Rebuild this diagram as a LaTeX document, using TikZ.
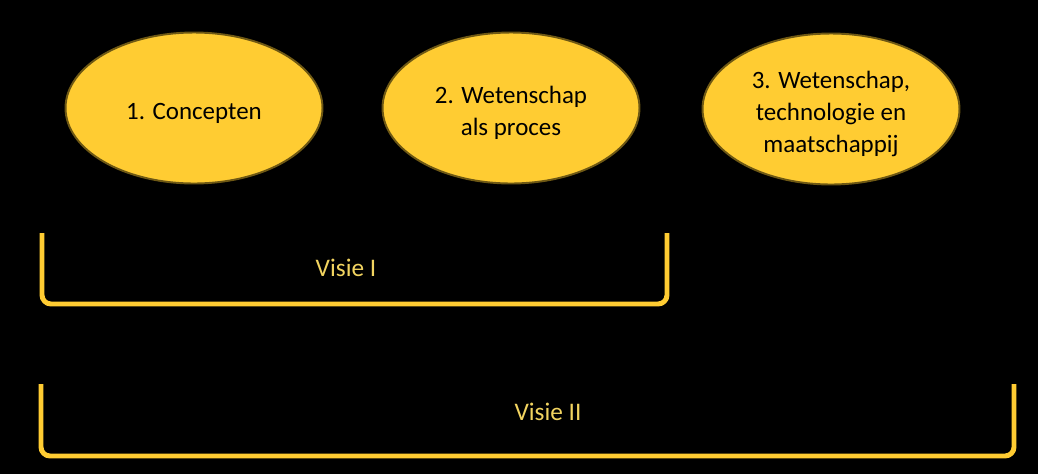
\documentclass[tikz,border=0pt]{standalone}
\usepackage{fontspec}
\setmainfont{Carlito}
\usepackage{xcolor}
\usepackage{tikz}
\usetikzlibrary{shapes,positioning}
\definecolor{geel}{RGB}{255,204,50}
\definecolor{rand}{RGB}{110,88,20}
\definecolor{tekstgeel}{RGB}{242,212,96}
\tikzstyle{pijler}=[ellipse,draw=rand,line width=1.1pt,fill=geel,
  minimum width=5.14cm,minimum height=3.02cm,inner sep=0pt]
\tikzstyle{pijltekst}=[text=black,align=center,inner sep=0pt,yshift=-0.1cm,
  font=\fontsize{14.2}{18.4}\selectfont]
\tikzstyle{haak}=[draw=geel,line width=2.8pt,rounded corners=0.18cm,line cap=butt]
\tikzstyle{visie}=[text=tekstgeel,font=\fontsize{14.4}{17.8}\selectfont,inner sep=0pt]

\begin{document}
\begin{tikzpicture}[x=0.02cm,y=-0.02cm]
    \fill[black] (0,0) rectangle (1038,474);
    \useasboundingbox (0,0) rectangle (1038,474);
    % de drie pijlers
    \node[pijler,label={[pijltekst]center:1. Concepten}] (concepten) at (194,108) {};
    \node[pijler,label={[pijltekst]center:2. Wetenschap\\als proces}] (proces) at (511,108) {};
    \node[pijler,label={[pijltekst]center:3. Wetenschap,\\technologie en\\maatschappij}] (maatschappij) at (831,109) {};
    % haak voor visie I
    \coordinate (v1lb) at (42,233);
    \coordinate (v1lo) at (42,304);
    \coordinate (v1ro) at (667,304);
    \coordinate (v1rb) at (667,233);
    \draw[haak] (v1lb) -- (v1lo) -- (v1ro) -- (v1rb);
    \node[visie] (visie1) at (346,268) {Visie I};
    % haak voor visie II
    \coordinate (v2lb) at (41,384);
    \coordinate (v2lo) at (41,456);
    \coordinate (v2ro) at (1014,456);
    \coordinate (v2rb) at (1014,384);
    \draw[haak] (v2lb) -- (v2lo) -- (v2ro) -- (v2rb);
    \node[visie] (visie2) at (548,412) {Visie II};
  \end{tikzpicture}
\end{document}
